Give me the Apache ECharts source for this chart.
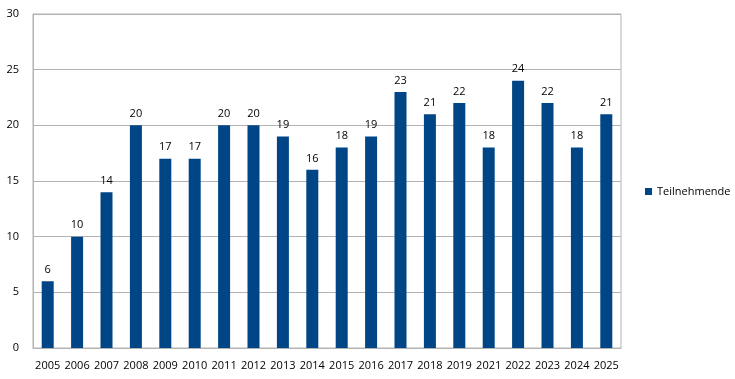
<!DOCTYPE html>
<html><head><meta charset="utf-8">
<script src="https://cdn.jsdelivr.net/npm/echarts@6/dist/echarts.min.js"></script>
<style>html,body{margin:0;padding:0;background:#fff}#c{width:735px;height:379px}</style>
</head><body><div id="c"></div>
<script>
const years = ['2005','2006','2007','2008','2009','2010','2011','2012','2013','2014','2015','2016','2017','2018','2019','2021','2022','2023','2024','2025'];
const teilnehmende = [6,10,14,20,17,17,20,20,19,16,18,19,23,21,22,18,24,22,18,21];
const yTicks = [0,5,10,15,20,25,30];

const chart = echarts.init(document.getElementById('c'));
const font = 'Open Sans';
chart.setOption({
  animation:false,
  grid:{left:33,right:114,top:14,bottom:31,show:true,borderColor:'#b3b3b3',borderWidth:1},
  legend:{data:['Teilnehmende'],orient:'vertical',left:640,top:181,icon:'rect',itemWidth:7,itemHeight:7,itemGap:4,
    textStyle:{fontFamily:font,fontSize:11,color:'#000'}},
  xAxis:{type:'category',data:years,axisTick:{show:false},axisLine:{lineStyle:{color:'#b3b3b3'}},
    axisLabel:{fontFamily:font,fontSize:11,color:'#000',margin:12,interval:0}},
  yAxis:{type:'value',min:yTicks[0],max:yTicks[yTicks.length-1],interval:5,axisLine:{show:true,lineStyle:{color:'#b3b3b3'}},
    splitLine:{lineStyle:{color:'#b3b3b3'}},axisLabel:{fontFamily:font,fontSize:11,color:'#000',margin:14}},
  series:[{name:'Teilnehmende',type:'bar',data:teilnehmende,barWidth:12,itemStyle:{color:'#004586'},
    label:{show:true,position:'top',distance:6,fontFamily:font,fontSize:11,color:'#000'}}]
});
</script>
</body></html>
